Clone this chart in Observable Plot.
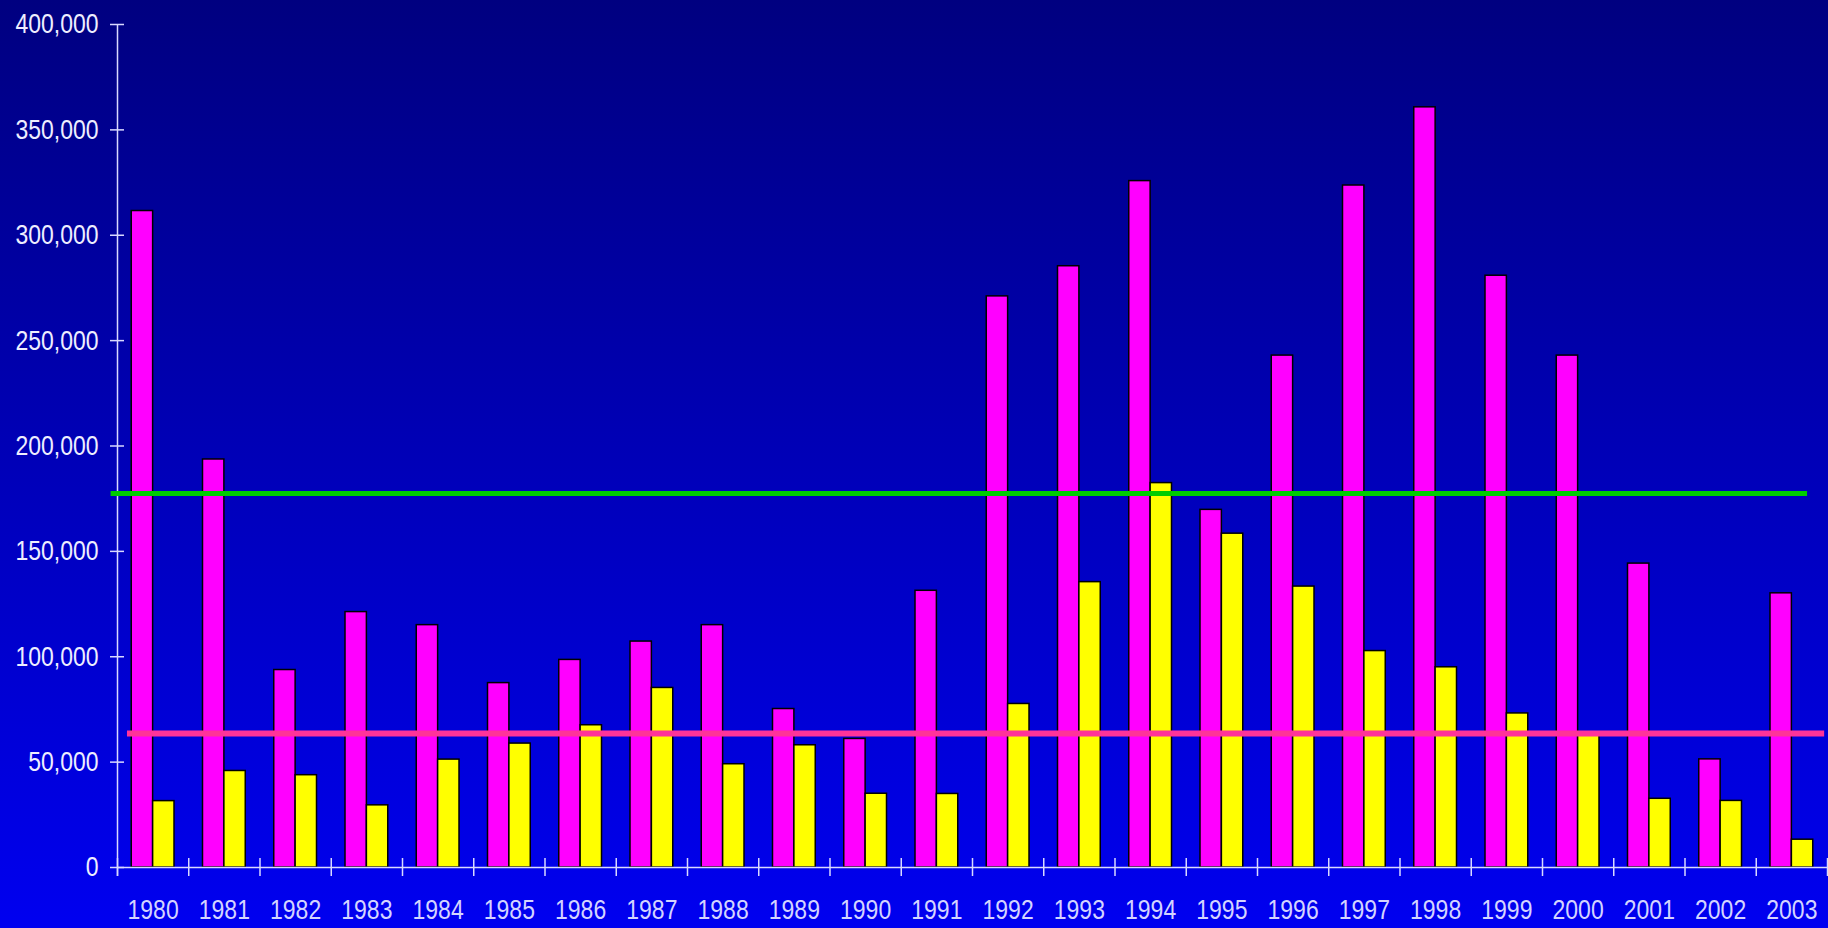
<!DOCTYPE html>
<html><head><meta charset="utf-8">
<script src="https://cdn.jsdelivr.net/npm/d3@7"></script>
<script src="https://cdn.jsdelivr.net/npm/@observablehq/plot@0.6"></script>
<style>
html,body{margin:0;padding:0;width:1828px;height:928px;overflow:hidden;
  background:linear-gradient(to bottom,#000080 0%,#0000f0 100%);}
#chart svg{display:block}
</style></head><body><div id="chart"></div>
<script>
const years = [1980,1981,1982,1983,1984,1985,1986,1987,1988,1989,1990,1991,1992,1993,1994,1995,1996,1997,1998,1999,2000,2001,2002,2003];
const magentaValues = [311500,193600,93700,121200,115000,87500,98500,107200,115000,75200,61000,131300,271000,285300,325700,169700,242900,323600,360700,280800,242900,144200,51300,130100];
const yellowValues = [31500,45800,43800,29500,51200,58800,67500,85200,49000,58000,35000,34900,77600,135400,182400,158400,133300,102700,95000,73100,64000,32600,31600,13200];
const referenceHigh = 177500;
const referenceLow = 63600;
const yTickValues = [0,50000,100000,150000,200000,250000,300000,350000,400000];
const yearBoundaries = [1979.5,1980.5,1981.5,1982.5,1983.5,1984.5,1985.5,1986.5,1987.5,1988.5,1989.5,1990.5,1991.5,1992.5,1993.5,1994.5,1995.5,1996.5,1997.5,1998.5,1999.5,2000.5,2001.5,2002.5,2003.5];

const rows = years.flatMap((yr, i) => [
  {year: yr, series: "magenta", value: magentaValues[i]},
  {year: yr, series: "yellow", value: yellowValues[i]}
]);
const barHalf = 0.3;
const axisColor = "#d8d8ff";

const chart = Plot.plot({
  width: 1828,
  height: 928,
  marginLeft: 117,
  marginRight: 1,
  marginTop: 24,
  marginBottom: 61,
  x: {type: "linear", domain: [1979.5, 2003.5], label: null},
  y: {domain: [0, 400000], label: null},
  style: {background: "transparent", fontFamily: "'Liberation Sans', Arial, sans-serif", fontSize: "28px"},
  marks: [
    Plot.rectY(rows, {
      x1: d => d.series === "magenta" ? d.year - barHalf : d.year,
      x2: d => d.series === "magenta" ? d.year : d.year + barHalf,
      y1: d => 0,
      y2: "value",
      fill: d => d.series === "magenta" ? "#ff00ff" : "#ffff00",
      stroke: "#000000",
      strokeWidth: 1.5
    }),
    Plot.ruleY([0], {stroke: axisColor, strokeWidth: 1.5}),
    Plot.ruleX([1979.5], {y1: d => 400000, y2: d => 0, insetBottom: -9, stroke: axisColor, strokeWidth: 1.5}),
    Plot.ruleX(yearBoundaries, {x: d => d, y1: d => 0, y2: d => 0, insetTop: -9, insetBottom: -9, stroke: axisColor, strokeWidth: 1.5}),
    Plot.ruleY(yTickValues, {y: d => d, x1: d => 1979.5, x2: d => 1979.5, insetLeft: -7, insetRight: -7, stroke: axisColor, strokeWidth: 1.5}),
    Plot.ruleY([referenceHigh], {x1: d => 1979.41, x2: d => 2003.22, stroke: "#00cc00", strokeWidth: 5}),
    Plot.ruleY([referenceLow], {x1: d => 1979.64, x2: d => 2003.46, stroke: "#ff3399", strokeWidth: 6}),
    Plot.axisY(yTickValues, {tickSize: 0, tickPadding: 19, tickFormat: d3.format(","), fill: "#eeeeff", fontSize: 28}),
    Plot.axisX(years, {tickSize: 0, tickPadding: 32, tickFormat: d => String(d), fill: "#d4d4ff", fontSize: 28})
  ]
});
document.getElementById("chart").appendChild(chart);
// Narrow the label glyphs (the reference uses a condensed face)
chart.querySelectorAll("text").forEach(t => {
  const w = t.getComputedTextLength();
  if (w > 0) {
    t.setAttribute("textLength", (w * 0.82).toFixed(1));
    t.setAttribute("lengthAdjust", "spacingAndGlyphs");
  }
});
</script>
</body></html>
